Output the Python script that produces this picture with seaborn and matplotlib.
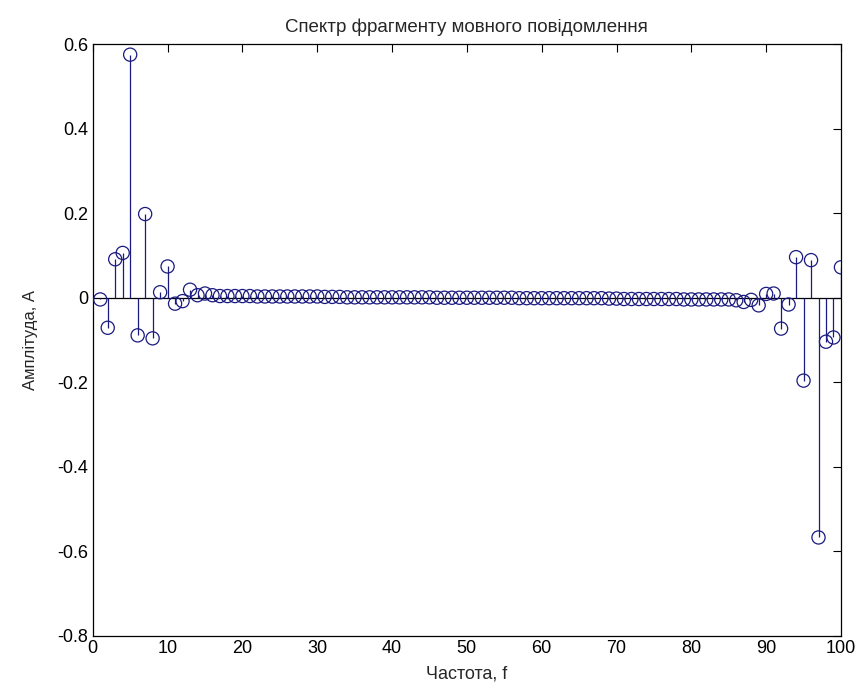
import numpy as np
import pandas as pd
import matplotlib
matplotlib.use("Agg")
import matplotlib.pyplot as plt
import seaborn as sns

# Frequency indices 1..100
freq = list(range(1, 101))

# Amplitudes
amp_1_20 = [-0.004, -0.071, 0.091, 0.106, 0.575, -0.089, 0.198, -0.096, 0.013, 0.074,
            -0.014, -0.008, 0.019, 0.006, 0.010, 0.006, 0.004, 0.004, 0.004, 0.004]
amp_21_40 = [0.004, 0.003, 0.003, 0.003, 0.003, 0.003, 0.003, 0.003, 0.003, 0.003,
             0.002, 0.002, 0.002, 0.001, 0.001, 0.001, 0.001, 0.001, 0.001, 0.001]
amp_41_60 = [0.001, 0.001, 0.001, 0.001, 0.001, 0.000, 0.000, 0.000, 0.000, 0.000,
             0.000, 0.000, 0.000, 0.000, 0.000, 0.000, -0.001, -0.001, -0.001, -0.001]
amp_61_80 = [-0.001, -0.001, -0.001, -0.001, -0.001, -0.001, -0.001, -0.001, -0.002, -0.002,
             -0.003, -0.003, -0.003, -0.003, -0.003, -0.003, -0.003, -0.003, -0.004, -0.004]
amp_81_100 = [-0.004, -0.004, -0.004, -0.004, -0.004, -0.006, -0.010, -0.005, -0.018, 0.009,
              0.010, -0.073, -0.016, 0.096, -0.196, 0.089, -0.567, -0.104, -0.094, 0.072]
amplitude = amp_1_20 + amp_21_40 + amp_41_60 + amp_61_80 + amp_81_100

title_text = "Спектр фрагменту мовного повідомлення"
xlabel_text = "Частота, f"
ylabel_text = "Амплітуда, А"
xticks = [0, 10, 20, 30, 40, 50, 60, 70, 80, 90, 100]
yticks = [-0.8, -0.6, -0.4, -0.2, 0, 0.2, 0.4, 0.6]
ytick_labels = ["-0.8", "-0.6", "-0.4", "-0.2", "0", "0.2", "0.4", "0.6"]

df = pd.DataFrame({"f": freq, "A": amplitude})

sns.set_style("white")
plt.rcParams["font.family"] = ["Liberation Sans", "DejaVu Sans"]

color = "#1a1a80"

fig = plt.figure(figsize=(8.59, 6.89), dpi=100)
ax = fig.add_axes([0.108, 0.077, 0.871, 0.859])

# baseline
ax.axhline(0, color="black", lw=0.9, zorder=1)
# stems
ax.vlines(df["f"], 0, df["A"], color=color, lw=0.9, zorder=2)
# circles
sns.scatterplot(data=df, x="f", y="A", ax=ax, marker="o", s=90,
                color=color, linewidth=0.9, zorder=3, legend=False)
for coll in ax.collections[-1:]:
    coll.set_facecolor("none")
    coll.set_edgecolor(color)

ax.set_xlim(0, 100)
ax.set_ylim(-0.8, 0.6)
ax.set_xticks(xticks)
ax.set_xticklabels([str(t) for t in xticks])
ax.set_yticks(yticks)
ax.set_yticklabels(ytick_labels)
ax.tick_params(direction="in", length=6, width=0.8, top=True, right=True,
               labelsize=13, colors="black", pad=3)
for s in ax.spines.values():
    s.set_color("black")
    s.set_linewidth(0.9)
    s.set_visible(True)

ax.set_title(title_text, fontsize=13.5, pad=9)
ax.set_xlabel(xlabel_text, fontsize=13, labelpad=6)
ax.set_ylabel(ylabel_text, fontsize=12, labelpad=14)

fig.savefig("out.png", dpi=100, facecolor="white")
